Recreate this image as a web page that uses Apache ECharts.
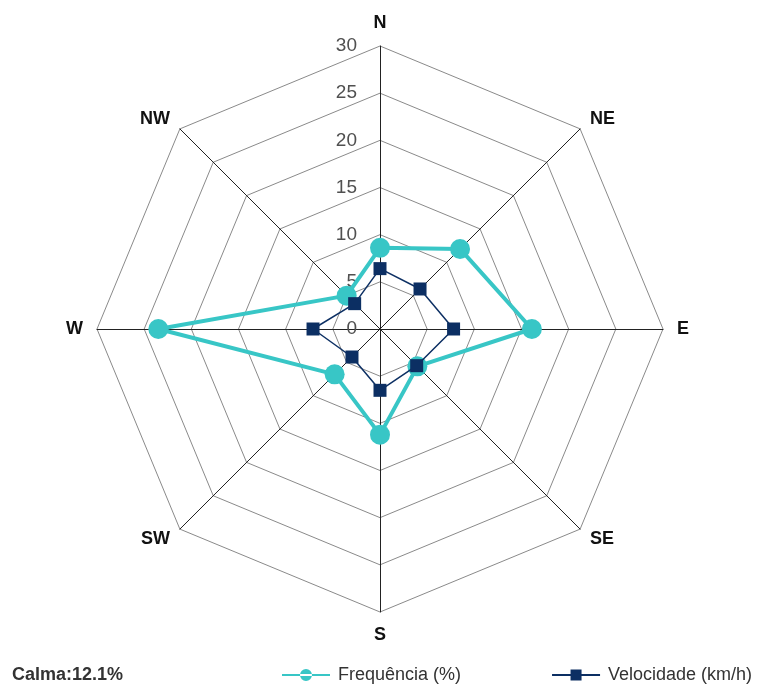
<!DOCTYPE html>
<html>
<head>
<meta charset="utf-8">
<script src="https://cdn.jsdelivr.net/npm/echarts@6/dist/echarts.min.js"></script>
<style>
  html, body { margin: 0; padding: 0; background: #fff; }
  #chart { width: 760px; height: 690px; }
</style>
</head>
<body>
<div id="chart"></div>
<script>
// Wind directions in compass order (clockwise from north)
const directions = ['N', 'NE', 'E', 'SE', 'S', 'SW', 'W', 'NW'];
// Frequency of wind from each direction (%)
const frequencia = [8.6, 12.0, 16.1, 5.6, 11.2, 6.8, 23.5, 5.0];
// Mean wind speed per direction (km/h)
const velocidade = [6.4, 6.0, 7.8, 5.5, 6.5, 4.2, 7.1, 3.8];
// Radial scale
const radialMax = 30;
const radialSplits = 6;
const calmaText = 'Calma:12.1%';

// The radar lays indicators out counter-clockwise, so walk the compass backwards after N
const order = [0, 7, 6, 5, 4, 3, 2, 1];
const pick = arr => order.map(i => arr[i]);

const FONT = 'Liberation Sans, Arial, sans-serif';

const indicator = order.map((i, k) => {
  const ind = { name: directions[i], max: radialMax, min: 0 };
  if (k === 0) {
    // scale values are printed only along the north spoke
    ind.axisLabel = {
      show: true,
      color: '#505050',
      fontSize: 19,
      fontFamily: FONT,
      margin: 23
    };
  }
  return ind;
});

const chart = echarts.init(document.getElementById('chart'), null, { renderer: 'canvas' });

const option = {
  backgroundColor: '#ffffff',
  animation: false,
  title: {
    text: calmaText,
    left: 12,
    top: 666,
    padding: 0,
    textStyle: {
      fontFamily: FONT,
      fontSize: 18,
      fontWeight: 'bold',
      color: '#333'
    }
  },
  legend: {
    top: 666,
    left: 282,
    padding: 0,
    itemGap: 91,
    itemWidth: 48,
    itemHeight: 20,
    textStyle: {
      fontFamily: FONT,
      fontSize: 18,
      color: '#333',
      padding: [0, 0, 0, 3]
    },
    data: [
      { name: 'Frequência (%)', icon: 'path://M0,9h48v2h-48z M24,4a6,6 0 1,0 0.01,0z' },
      { name: 'Velocidade (km/h)', icon: 'path://M0,9h48v2h-48z M18.5,4.5h11v11h-11z' }
    ]
  },
  radar: {
    center: [380, 329],
    radius: 283,
    startAngle: 90,
    shape: 'polygon',
    splitNumber: radialSplits,
    indicator: indicator,
    axisName: {
      color: '#111',
      fontFamily: FONT,
      fontSize: 18,
      fontWeight: 'bold'
    },
    nameGap: 14,
    axisLine: { lineStyle: { color: '#222', width: 1 } },
    splitLine: { lineStyle: { color: '#8a8a8a', width: 1 } },
    splitArea: { show: false },
    axisTick: { show: false },
    axisLabel: { show: false }
  },
  series: [
    {
      name: 'Frequência (%)',
      type: 'radar',
      symbol: 'circle',
      symbolSize: 20,
      z: 2,
      lineStyle: { color: '#38c6c6', width: 4 },
      itemStyle: { color: '#38c6c6' },
      data: [{ value: pick(frequencia), name: 'Frequência (%)' }]
    },
    {
      name: 'Velocidade (km/h)',
      type: 'radar',
      symbol: 'rect',
      symbolSize: 13,
      z: 3,
      lineStyle: { color: '#0c2f63', width: 1.5 },
      itemStyle: { color: '#0c2f63' },
      data: [{ value: pick(velocidade), name: 'Velocidade (km/h)' }]
    }
  ]
};

chart.setOption(option);
</script>
</body>
</html>
